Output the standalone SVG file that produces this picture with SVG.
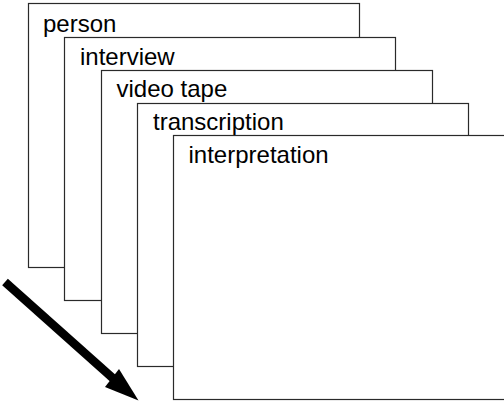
<svg xmlns="http://www.w3.org/2000/svg" width="504" height="406" viewBox="0 0 504 406">
  <style>
    .sheet { fill: #ffffff; stroke: #2a2a2a; stroke-width: 1.2; }
    .label { font-family: "Liberation Sans", Arial, sans-serif; font-size: 24px; fill: #000000; }
  </style>
  <rect x="0" y="0" width="504" height="406" fill="#ffffff"/>
  <!-- stacked sheets, back to front -->
  <g id="person">
    <rect class="sheet" x="28.5" y="3.5" width="331" height="264"/>
    <text class="label" x="43" y="32">person</text>
  </g>
  <g id="interview">
    <rect class="sheet" x="64.5" y="37.5" width="331" height="263"/>
    <text class="label" x="80" y="64.5">interview</text>
  </g>
  <g id="video-tape">
    <rect class="sheet" x="101.5" y="70.5" width="331" height="263"/>
    <text class="label" x="116.5" y="97">video tape</text>
  </g>
  <g id="transcription">
    <rect class="sheet" x="137.5" y="103.5" width="331" height="263"/>
    <text class="label" x="153" y="130">transcription</text>
  </g>
  <g id="interpretation">
    <rect class="sheet" x="173.5" y="135.5" width="332" height="264"/>
    <text class="label" x="188.5" y="163">interpretation</text>
  </g>
  <!-- direction arrow -->
  <g id="connectors">
    <line x1="5" y1="282" x2="116" y2="381" stroke="#000000" stroke-width="8.5"/>
    <polygon points="138.5,400.5 105,387 119,369" fill="#000000"/>
  </g>
</svg>
